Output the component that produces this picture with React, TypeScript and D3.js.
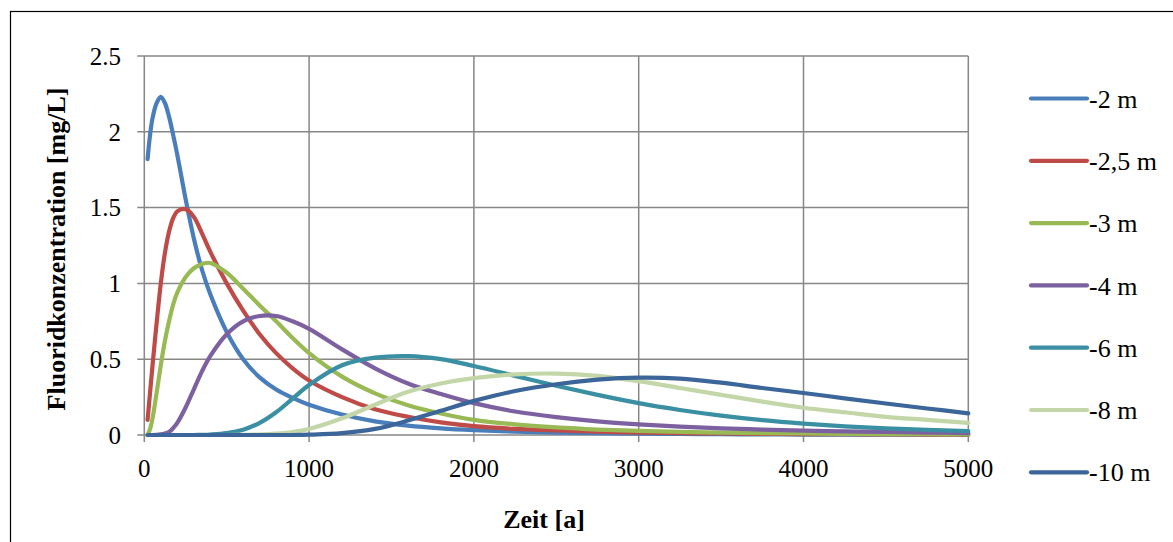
import React from 'react';
import * as d3 from 'd3';

// Time axis samples [a]
const times = [20, 35, 50, 75, 100, 125, 150, 175, 200, 250, 300, 350, 400, 500, 600, 700, 800, 900, 1000, 1200, 1400, 1600, 1800, 2000, 2250, 2500, 2750, 3000, 3250, 3500, 3750, 4000, 4250, 4500, 4750, 5000];

const seriesNames = ['-2 m', '-2,5 m', '-3 m', '-4 m', '-6 m', '-8 m', '-10 m'];

const depth2 = [1.82, 1.98, 2.09, 2.19, 2.23, 2.19, 2.10, 1.98, 1.85, 1.56, 1.30, 1.09, 0.93, 0.68, 0.50, 0.38, 0.30, 0.245, 0.20, 0.135, 0.09, 0.062, 0.044, 0.032, 0.022, 0.016, 0.012, 0.009, 0.007, 0.005, 0.004, 0.003, 0.003, 0.002, 0.002, 0.001];
const depth25 = [0.10, 0.28, 0.46, 0.74, 1.00, 1.20, 1.34, 1.43, 1.475, 1.49, 1.44, 1.33, 1.21, 1.00, 0.82, 0.665, 0.54, 0.44, 0.36, 0.25, 0.17, 0.12, 0.083, 0.058, 0.04, 0.03, 0.022, 0.016, 0.012, 0.01, 0.008, 0.006, 0.005, 0.004, 0.003, 0.003];
const depth3 = [0.0, 0.04, 0.11, 0.28, 0.46, 0.62, 0.75, 0.86, 0.94, 1.04, 1.10, 1.128, 1.135, 1.07, 0.965, 0.855, 0.75, 0.64, 0.54, 0.385, 0.275, 0.197, 0.142, 0.10, 0.07, 0.05, 0.036, 0.027, 0.02, 0.016, 0.012, 0.01, 0.008, 0.006, 0.005, 0.004];
const depth4 = [0, 0, 0, 0.001, 0.004, 0.01, 0.02, 0.045, 0.08, 0.18, 0.30, 0.42, 0.52, 0.665, 0.75, 0.785, 0.785, 0.75, 0.70, 0.565, 0.44, 0.34, 0.27, 0.21, 0.155, 0.118, 0.09, 0.07, 0.055, 0.044, 0.036, 0.029, 0.024, 0.02, 0.016, 0.013];
const depth6 = [0, 0, 0, 0, 0, 0, 0, 0, 0, 0, 0, 0.001, 0.003, 0.012, 0.035, 0.08, 0.15, 0.24, 0.33, 0.46, 0.51, 0.52, 0.50, 0.455, 0.39, 0.325, 0.265, 0.21, 0.165, 0.128, 0.098, 0.075, 0.057, 0.044, 0.034, 0.026];
const depth8 = [0, 0, 0, 0, 0, 0, 0, 0, 0, 0, 0, 0, 0, 0, 0.001, 0.003, 0.009, 0.02, 0.04, 0.11, 0.20, 0.285, 0.34, 0.375, 0.40, 0.405, 0.39, 0.355, 0.31, 0.265, 0.22, 0.18, 0.15, 0.12, 0.10, 0.08];
const depth10 = [0, 0, 0, 0, 0, 0, 0, 0, 0, 0, 0, 0, 0, 0, 0, 0, 0, 0, 0.002, 0.012, 0.04, 0.095, 0.16, 0.225, 0.29, 0.335, 0.365, 0.378, 0.372, 0.345, 0.31, 0.277, 0.242, 0.208, 0.175, 0.143];

const seriesValues = [depth2, depth25, depth3, depth4, depth6, depth8, depth10];
const seriesColors = ['#4A7EBB', '#BE4B48', '#98B954', '#7D60A0', '#3A8FA2', '#C3D6A8', '#3C6699'];

const xTicks = [0, 1000, 2000, 3000, 4000, 5000];
const yTicks = [0, 0.5, 1, 1.5, 2, 2.5];

const FONT = '"Liberation Serif", "Times New Roman", serif';

export default function App() {
  const W = 1173;
  const H = 542;
  const left = 144.3, right = 968.3, top = 56, bottom = 435;
  const x = d3.scaleLinear().domain([0, 5000]).range([left, right]);
  const y = d3.scaleLinear().domain([0, 2.5]).range([bottom, top]);
  const line = d3
    .line<number>()
    .x((_, i) => x(times[i]))
    .y((d) => y(Math.max(0, d)))
    .curve(d3.curveCatmullRom.alpha(0.5));

  const gridColor = '#878787';
  const legendX0 = 1031, legendX1 = 1087, legendY0 = 98.5, legendStep = 62.3;
  const txt = { fontFamily: FONT };

  return (
    <svg
      width={W}
      height={H}
      style={{ position: 'fixed', left: 0, top: 0, background: '#fff', display: 'block' }}
    >
      <rect x={0} y={0} width={W} height={H} fill="#fff" />
      <rect x={10.5} y={11.5} width={W + 20} height={H + 20} fill="none" stroke="#000" strokeWidth={1.2} />

      {/* horizontal gridlines */}
      {yTicks.map((t) => (
        <line key={'gy' + t} x1={left - 7} x2={right} y1={y(t)} y2={y(t)} stroke={gridColor} strokeWidth={1.5} />
      ))}
      {/* vertical gridlines */}
      {xTicks.map((t) => (
        <line key={'gx' + t} x1={x(t)} x2={x(t)} y1={top} y2={bottom + 7} stroke={gridColor} strokeWidth={1.5} />
      ))}

      {/* y tick labels */}
      {yTicks.map((t) => (
        <text key={'ly' + t} x={121} y={y(t)} dy="0.35em" textAnchor="end" fontSize={25} fill="#000" style={txt}>
          {String(t)}
        </text>
      ))}
      {/* x tick labels */}
      {xTicks.map((t) => (
        <text key={'lx' + t} x={x(t)} y={477} textAnchor="middle" fontSize={25} fill="#000" style={txt}>
          {String(t)}
        </text>
      ))}

      {/* series */}
      {seriesValues.map((vals, i) => (
        <path
          key={'s' + i}
          d={line(vals) || ''}
          fill="none"
          stroke={seriesColors[i]}
          strokeWidth={4.2}
          strokeLinejoin="round"
          strokeLinecap="round"
        />
      ))}

      {/* axis titles */}
      <text x={544} y={528} textAnchor="middle" fontSize={26} fontWeight="bold" fill="#000" style={txt}>
        Zeit [a]
      </text>
      <text
        transform={`translate(65, 249) rotate(-90)`}
        textAnchor="middle"
        fontSize={26}
        fontWeight="bold"
        fill="#000"
        style={txt}
      >
        Fluoridkonzentration [mg/L]
      </text>

      {/* legend */}
      {seriesNames.map((name, i) => {
        const ly = legendY0 + i * legendStep;
        return (
          <g key={'lg' + i}>
            <line x1={legendX0} x2={legendX1} y1={ly} y2={ly} stroke={seriesColors[i]} strokeWidth={4.2} strokeLinecap="round" />
            <text x={legendX1 + 2} y={ly} dy="0.35em" fontSize={26} fill="#000" style={txt}>
              {name}
            </text>
          </g>
        );
      })}
    </svg>
  );
}
